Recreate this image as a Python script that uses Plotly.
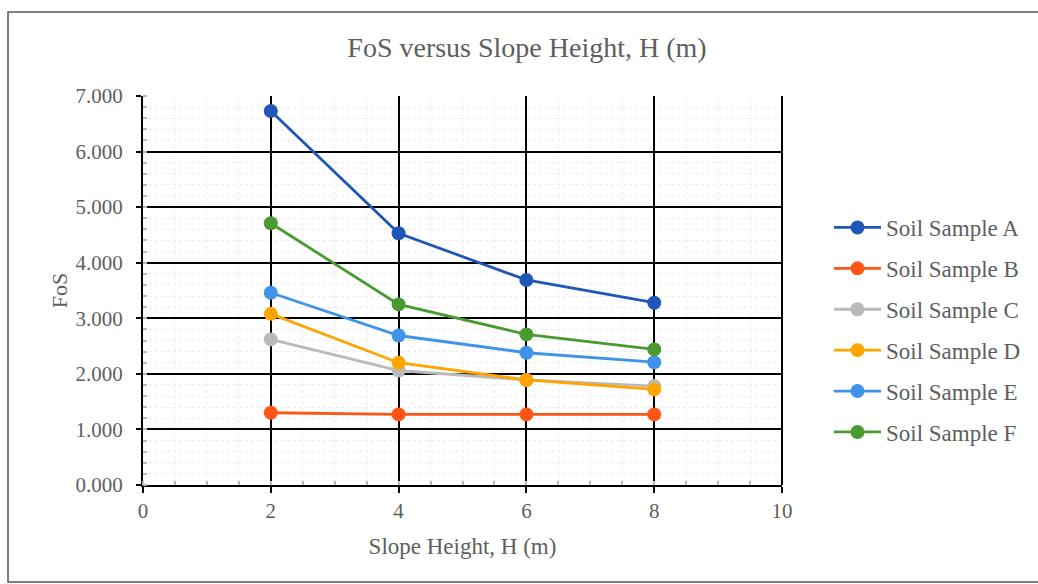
import plotly.graph_objects as go

# Slope heights (m) and factor of safety for each soil sample
heights = [2, 4, 6, 8]
fos_a = [6.73, 4.53, 3.69, 3.28]
fos_b = [1.30, 1.27, 1.27, 1.27]
fos_c = [2.62, 2.06, 1.89, 1.78]
fos_d = [3.08, 2.20, 1.89, 1.72]
fos_e = [3.46, 2.69, 2.38, 2.21]
fos_f = [4.71, 3.25, 2.71, 2.44]

series_names = ["Soil Sample A", "Soil Sample B", "Soil Sample C",
                "Soil Sample D", "Soil Sample E", "Soil Sample F"]
series_values = [fos_a, fos_b, fos_c, fos_d, fos_e, fos_f]
series_colors = ["#1f56b8", "#ff5516", "#bababa", "#ffa500", "#3f93e8", "#4a9a32"]

x_ticks = [0, 2, 4, 6, 8, 10]
y_ticks = [0, 1, 2, 3, 4, 5, 6, 7]

FONT = "Liberation Serif, Times New Roman, serif"
GREY = "#5e5e5e"

fig = go.Figure()
for name, vals, col in zip(series_names, series_values, series_colors):
    fig.add_trace(go.Scatter(
        x=heights, y=vals, name=name, mode="lines+markers",
        line=dict(color=col, width=2.8),
        marker=dict(color=col, size=14),
        legendgroup=name,
    ))

fig.update_layout(
    width=1038, height=584,
    margin=dict(l=143, r=256, t=96, b=99, autoexpand=False),
    paper_bgcolor="white", plot_bgcolor="white",
    title=dict(text="FoS versus Slope Height, H (m)", x=(527 / 1038), xanchor="center",
               y=1 - 47 / 584, yanchor="middle",
               font=dict(family=FONT, size=28, color=GREY)),
    font=dict(family=FONT, color=GREY),
    legend=dict(x=(829 - 143) / 639, xanchor="left", y=(485 - 206) / 389, yanchor="top",
                font=dict(family=FONT, size=23, color=GREY),
                tracegroupgap=8, itemwidth=47, bgcolor="rgba(0,0,0,0)"),
    showlegend=True,
)

fig.update_xaxes(
    range=[0, 10], tickvals=x_ticks, ticktext=[str(t) for t in x_ticks],
    showgrid=True, gridcolor="black", gridwidth=2,
    showline=True, linecolor="black", linewidth=2, mirror=False,
    ticks="outside", ticklen=6, tickcolor="black", tickwidth=2,
    tickfont=dict(family=FONT, size=21, color=GREY),
    minor=dict(dtick=0.5, showgrid=True, gridcolor="#ebebeb", gridwidth=1,
               griddash="dot", ticks="inside", ticklen=4, tickcolor="#bbbbbb"),
    title=dict(text="Slope Height, H (m)", font=dict(family=FONT, size=23, color=GREY),
               standoff=16),
    zeroline=False,
)
fig.update_yaxes(
    range=[0, 7], tickvals=y_ticks, ticktext=[f"{t:.3f}" for t in y_ticks],
    showgrid=True, gridcolor="black", gridwidth=2,
    showline=True, linecolor="black", linewidth=2, mirror=False,
    ticks="outside", ticklen=5, tickcolor="black", tickwidth=2,
    ticklabelstandoff=9,
    tickfont=dict(family=FONT, size=21, color=GREY),
    minor=dict(dtick=0.2, showgrid=True, gridcolor="#ebebeb", gridwidth=1,
               griddash="dot", ticks="inside", ticklen=4, tickcolor="#bbbbbb"),
    title=dict(text="FoS", font=dict(family=FONT, size=22, color=GREY), standoff=2),
    zeroline=False,
)

# Chart-area frame and right plot edge
fig.add_shape(type="rect", xref="paper", yref="paper",
              x0=(8 - 143) / 639, x1=(1045 - 143) / 639,
              y0=(485 - 582) / 389, y1=(485 - 12) / 389,
              line=dict(color="#555555", width=1.5), layer="below")
fig.add_shape(type="line", xref="paper", yref="paper", x0=1, x1=1, y0=0, y1=1,
              line=dict(color="black", width=2))

fig.write_html("out.html")
